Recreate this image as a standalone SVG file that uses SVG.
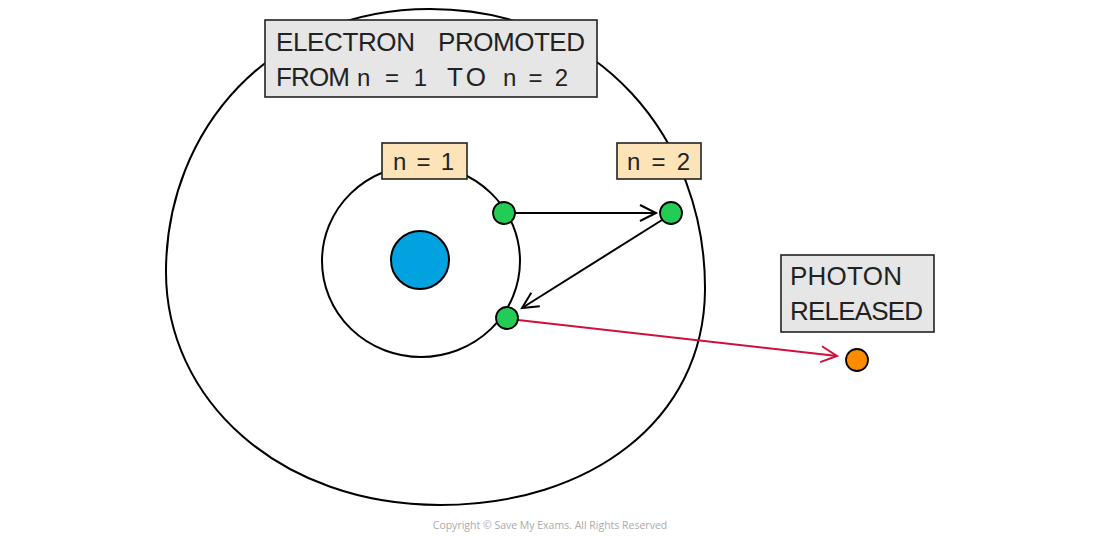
<svg xmlns="http://www.w3.org/2000/svg" width="1100" height="536" viewBox="0 0 1100 536">
<style>
.orb{fill:none;stroke:#000;stroke-width:2}
.gl{fill:#e6e6e6;stroke:#222;stroke-width:1.6}
.or{fill:#fde3b8;stroke:#222;stroke-width:1.6}
.t{font-family:"Liberation Sans",Arial,sans-serif;font-size:26px;fill:#222}
.n{font-size:24px}
.e{fill:#22cc55;stroke:#000;stroke-width:1.8}
.ar{fill:none;stroke:#000;stroke-width:2}
</style>
<defs>
<marker id="ah" markerWidth="22" markerHeight="22" refX="18" refY="11" orient="auto" markerUnits="userSpaceOnUse">
<path d="M2,3 L18,11 L2,19" fill="none" stroke="#000" stroke-width="2"/>
</marker>
<marker id="ahr" markerWidth="22" markerHeight="22" refX="18" refY="11" orient="auto" markerUnits="userSpaceOnUse">
<path d="M2,3 L18,11 L2,19" fill="none" stroke="#d0103a" stroke-width="2"/>
</marker>
</defs>
<g id="orbit2"><path class="orb" d="M430,9 C600,9 706,140 705,290 C704,420 590,505 440,505 C280,505 165,400 166,270 C167,130 270,9 430,9 Z"/></g>
<g id="orbit1"><ellipse class="orb" cx="421" cy="261" rx="99" ry="96"/></g>
<g id="nucleus"><circle cx="420" cy="260" r="29" fill="#00a3e0" stroke="#000" stroke-width="2"/></g>
<g id="connectors">
<line class="ar" x1="515" y1="213" x2="656" y2="213" marker-end="url(#ah)"/>
<line class="ar" x1="662" y1="220" x2="522" y2="308" marker-end="url(#ah)"/>
<line x1="518" y1="320" x2="837" y2="356" stroke="#d0103a" stroke-width="2" marker-end="url(#ahr)"/>
</g>
<g id="electron1"><circle class="e" cx="504" cy="213" r="11"/></g>
<g id="electron2"><circle class="e" cx="671" cy="213" r="11"/></g>
<g id="electron3"><circle class="e" cx="507" cy="318" r="11"/></g>
<g id="photon"><circle cx="857" cy="360" r="11" fill="#ff8c00" stroke="#000" stroke-width="1.8"/></g>
<g id="title"><rect class="gl" x="265" y="20" width="332" height="77"/>
<text class="t" x="276" y="51" textLength="139" lengthAdjust="spacing">ELECTRON</text>
<text class="t" x="438" y="51" textLength="147" lengthAdjust="spacing">PROMOTED</text>
<text class="t" x="276" y="86" textLength="74" lengthAdjust="spacing">FROM</text>
<text class="t n" x="357" y="86" textLength="70" lengthAdjust="spacing">n = 1</text>
<text class="t" x="447" y="86" textLength="39" lengthAdjust="spacing">TO</text>
<text class="t n" x="503" y="86" textLength="65" lengthAdjust="spacing">n = 2</text></g>
<g id="label-n1"><rect class="or" x="382" y="143" width="85" height="36"/><text class="t n" x="393" y="170" textLength="61" lengthAdjust="spacing">n = 1</text></g>
<g id="label-n2"><rect class="or" x="617" y="143" width="84" height="36"/><text class="t n" x="627" y="170" textLength="63" lengthAdjust="spacing">n = 2</text></g>
<g id="label-photon"><rect class="gl" x="781" y="255" width="153" height="77"/>
<text class="t" x="790" y="285" textLength="112" lengthAdjust="spacing">PHOTON</text><text class="t" x="790" y="320" textLength="133" lengthAdjust="spacing">RELEASED</text></g>
<text x="550" y="529" text-anchor="middle" font-family="'Open Sans',sans-serif" font-size="10.5" fill="#aaa">Copyright © Save My Exams. All Rights Reserved</text>
</svg>
